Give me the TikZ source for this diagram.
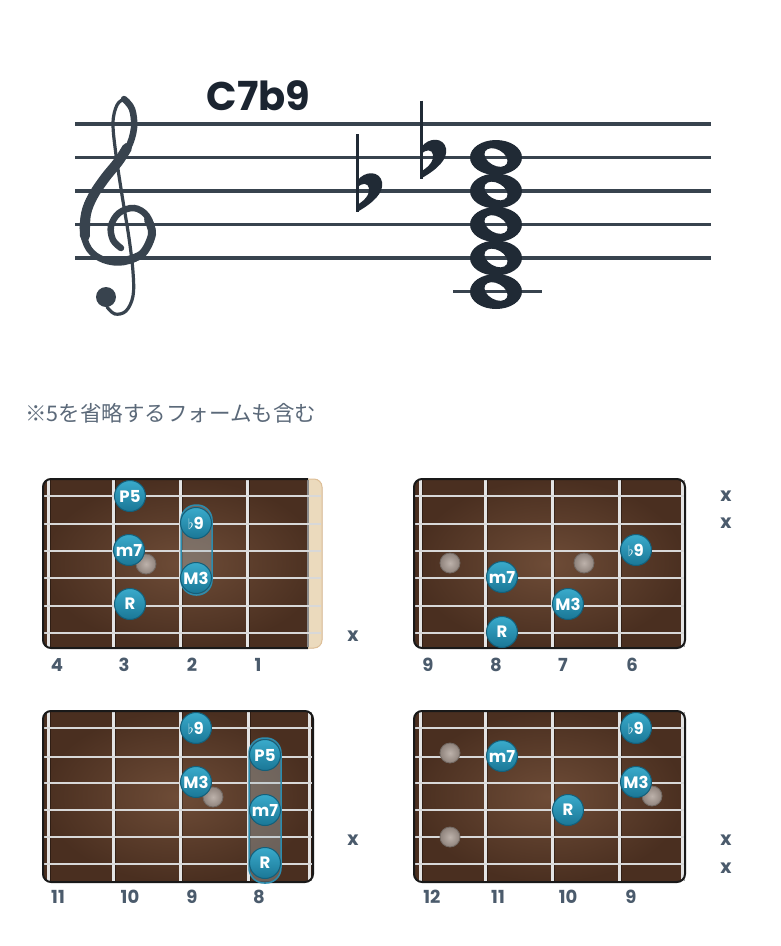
\documentclass[tikz,border=0pt]{standalone}
\usepackage{fontspec}
\usepackage{amssymb}
\usepackage{xcolor}
\usepackage{tikz}
\usetikzlibrary{shadings}
\newfontfamily\popfont{Poppins}
\newfontfamily\jpfont{Noto Sans CJK JP}

\definecolor{staffcol}{HTML}{38434E}
\definecolor{titlecol}{HTML}{1B2430}
\definecolor{notecol}{HTML}{202A35}
\definecolor{textcol}{HTML}{5B6979}
\definecolor{labelcol}{HTML}{4B5B6C}
\definecolor{boardin}{HTML}{6E4C37}
\definecolor{boardout}{HTML}{4A2F20}
\definecolor{fretcol}{HTML}{E4E4E4}
\definecolor{stringcol}{HTML}{D8D8D8}
\definecolor{nutcol}{HTML}{EBDABD}
\definecolor{dottop}{HTML}{3AAACB}
\definecolor{dotbot}{HTML}{1A7796}
\definecolor{dotrim}{HTML}{135F7A}
\definecolor{inlayin}{HTML}{BDB2AB}
\definecolor{inlayout}{HTML}{8F837C}
\definecolor{capcol}{HTML}{A9BEC6}
\definecolor{caprim}{HTML}{2C8CAE}

\tikzset{
  staffline/.style={staffcol, line width=3.5pt},
  board/.style={rounded corners=8pt, inner color=boardin, outer color=boardout},
  boardrim/.style={draw=black!90, line width=2pt, rounded corners=8pt},
  fretwire/.style={fretcol, line width=3pt},
  fretshade/.style={black, opacity=.35, line width=2pt},
  gstring/.style={stringcol, line width=1.6pt},
  dot/.style={circle, minimum size=31pt, inner sep=0pt, top color=dottop, bottom color=dotbot,
    draw=dotrim, line width=1pt, text=white, font=\popfont\bfseries\fontsize{16.5}{16.5}\selectfont},
  inlay/.style={circle, minimum size=20pt, inner sep=0pt, inner color=inlayin, outer color=inlayout,
    draw=inlayout!80!black, line width=.8pt},
  capsule/.style={fill=capcol, fill opacity=.35, draw=caprim, line width=1.5pt, rounded corners=15pt},
  fretno/.style={text=labelcol, font=\popfont\bfseries\fontsize{18}{18}\selectfont},
  mute/.style={text=labelcol, font=\popfont\bfseries\fontsize{19}{19}\selectfont}
}
\newcommand{\flatnine}{{\fontsize{15}{15}\selectfont$\flat$}9}

\begin{document}
\begin{tikzpicture}[x=1pt,y=-1pt]
\fill[white] (0,0) rectangle (780,946);
\useasboundingbox (0,0) rectangle (780,946);

% title and staff
\node[anchor=base west, text=titlecol, font=\popfont\bfseries\fontsize{40}{40}\selectfont] (title) at (203,110) {C7b9};
\foreach \y in {124,157.5,191,224.5,258} \draw[staffline] (75,\y) -- (711,\y);
\draw[staffline] (453,291.5) -- (542,291.5);

% treble clef
\draw[staffcol, line width=6.5pt, line cap=round] plot[smooth, tension=.6] coordinates {
  (121,248) (113,240) (111,226) (119,213) (134,208) (147,216) (152,234) (143,253) (124,262)
  (104,260) (89,249) (83,229) (87,206) (99,185) (115,166) (128,148) (134,128) (132,109) (124,99)};
\draw[staffcol, line width=10pt, line cap=round] plot[smooth, tension=.6] coordinates {
  (85,236) (86,214) (93,196) (105,178) (118,162) (127,148)};
\draw[staffcol, line width=8pt, line cap=round] plot[smooth, tension=.6] coordinates {
  (148,220) (152,234) (143,253) (128,260)};
\draw[staffcol, line width=3.2pt, line cap=round] plot[smooth, tension=.6] coordinates {
  (124,99) (117,105) (113,123) (116,155) (122,195) (129,238) (133,272) (133,296) (126,311) (115,314) (107,307)};
\fill[staffcol] (106,297) circle (10);

% flats
\foreach \fx/\fy in {357/191, 421/157.5} {
  \begin{scope}[shift={(\fx,\fy)}]
    \draw[notecol, line width=3pt] (0,-57) -- (0,21);
    \fill[notecol] (0,21) .. controls (16,12) and (27,2) .. (25,-9) .. controls (23,-20) and (8,-21) .. (0,-10)
      -- (0,-3) .. controls (5,-9) and (11,-8) .. (12,-3) .. controls (13,4) and (7,10) .. (0,14) -- cycle;
  \end{scope}
}

% whole notes C E G Bb Db
\foreach \y in {157.5,191,224.5,258,291.5}
  \fill[notecol, even odd rule] (496,\y) ellipse (26 and 17.5) {[rotate around={-30:(496,\y)}] (496,\y) ellipse (12.5 and 8)};

\node[anchor=west, inner sep=0pt, text=textcol, font=\jpfont\fontsize{21.5}{21.5}\selectfont] (note) at (25,413) {※5を省略するフォームも含む};

% board 1 (frets 4-1)
\shade[board] (43,479) rectangle (322,648);
\begin{scope}
  \clip[rounded corners=8pt] (43,479) rectangle (322,648);
  \fill[nutcol] (308,478) rectangle (323,649);
\end{scope}
\draw[black!45, line width=1.5pt] (308,480) -- (308,647);
\foreach \x in {48,113,180,247} {
  \draw[fretshade] (\x+2,480) -- (\x+2,647);
  \draw[fretwire] (\x,480) -- (\x,647);
}
\foreach \y in {496,524,551,578} \draw[gstring] (44,\y) -- (321,\y);
\foreach \y in {606,633} \draw[gstring, line width=2.8pt] (44,\y) -- (321,\y);
\draw[boardrim] (308,479) -- (43,479) -- (43,648) -- (308,648);
\draw[nutcol!70!brown, line width=1pt, rounded corners=8pt] (308,479) -- (322,479) -- (322,648) -- (308,648);
\node[inlay] (i1a) at (146,564) {};
\draw[capsule] (181,505) rectangle (212,595);
\node[dot] (p5a) at (130,496) {P5};
\node[dot] (b9a) at (196,523) {\flatnine};
\node[dot] (m7a) at (129,550) {m7};
\node[dot] (m3a) at (196,578) {M3};
\node[dot] (ra) at (130,604) {R};
\node[mute] (xa) at (353,636) {x};
\foreach \n/\x in {4/57,3/124,2/192,1/258} \node[fretno] (fa\n) at (\x,665) {\n};

% board 2 (frets 9-6)
\shade[board] (414,479) rectangle (685,648);
\foreach \x in {420,485,552,619,682} {
  \draw[fretshade] (\x+2,480) -- (\x+2,647);
  \draw[fretwire] (\x,480) -- (\x,647);
}
\foreach \y in {496,524,551,578} \draw[gstring] (415,\y) -- (684,\y);
\foreach \y in {606,633} \draw[gstring, line width=2.8pt] (415,\y) -- (684,\y);
\draw[boardrim] (414,479) rectangle (685,648);
\node[inlay] (i2a) at (450,563) {};
\node[inlay] (i2b) at (584,563) {};
\node[dot] (b9b) at (636,550) {\flatnine};
\node[dot] (m7b) at (502,577) {m7};
\node[dot] (m3b) at (568,604) {M3};
\node[dot] (rb) at (502,632) {R};
\node[mute] (xb1) at (726,496) {x};
\node[mute] (xb2) at (726,523) {x};
\foreach \n/\x in {9/428,8/496,7/563,6/632} \node[fretno] (fb\n) at (\x,665) {\n};

% board 3 (frets 11-8)
\shade[board] (43,711) rectangle (313,882);
\foreach \x in {48,113,180,248,309} {
  \draw[fretshade] (\x+2,712) -- (\x+2,881);
  \draw[fretwire] (\x,712) -- (\x,881);
}
\foreach \y in {728,757,783,810} \draw[gstring] (44,\y) -- (312,\y);
\foreach \y in {837,864} \draw[gstring, line width=2.8pt] (44,\y) -- (312,\y);
\draw[boardrim] (43,711) rectangle (313,882);
\node[inlay] (i3a) at (213,797) {};
\draw[capsule] (249,738) rectangle (281,883);
\node[dot] (b9c) at (196,728) {\flatnine};
\node[dot] (p5c) at (265,755) {P5};
\node[dot] (m3c) at (196,782) {M3};
\node[dot] (m7c) at (265,810) {m7};
\node[dot] (rc) at (265,863) {R};
\node[mute] (xc) at (353,840) {x};
\foreach \n/\x in {11/58,10/130,9/192,8/259} \node[fretno] (fc\n) at (\x,897) {\n};

% board 4 (frets 12-9)
\shade[board] (414,711) rectangle (685,882);
\foreach \x in {420,485,552,619,682} {
  \draw[fretshade] (\x+2,712) -- (\x+2,881);
  \draw[fretwire] (\x,712) -- (\x,881);
}
\foreach \y in {728,757,783,810} \draw[gstring] (415,\y) -- (684,\y);
\foreach \y in {837,864} \draw[gstring, line width=2.8pt] (415,\y) -- (684,\y);
\draw[boardrim] (414,711) rectangle (685,882);
\node[inlay] (i4a) at (450,753) {};
\node[inlay] (i4b) at (652,796) {};
\node[inlay] (i4c) at (450,837) {};
\node[dot] (b9d) at (636,728) {\flatnine};
\node[dot] (m7d) at (502,756) {m7};
\node[dot] (m3d) at (636,782) {M3};
\node[dot] (rd) at (568,810) {R};
\node[mute] (xd1) at (726,840) {x};
\node[mute] (xd2) at (726,868) {x};
\foreach \n/\x in {12/432,11/498,10/568,9/631} \node[fretno] (fd\n) at (\x,897) {\n};
\end{tikzpicture}
\end{document}
